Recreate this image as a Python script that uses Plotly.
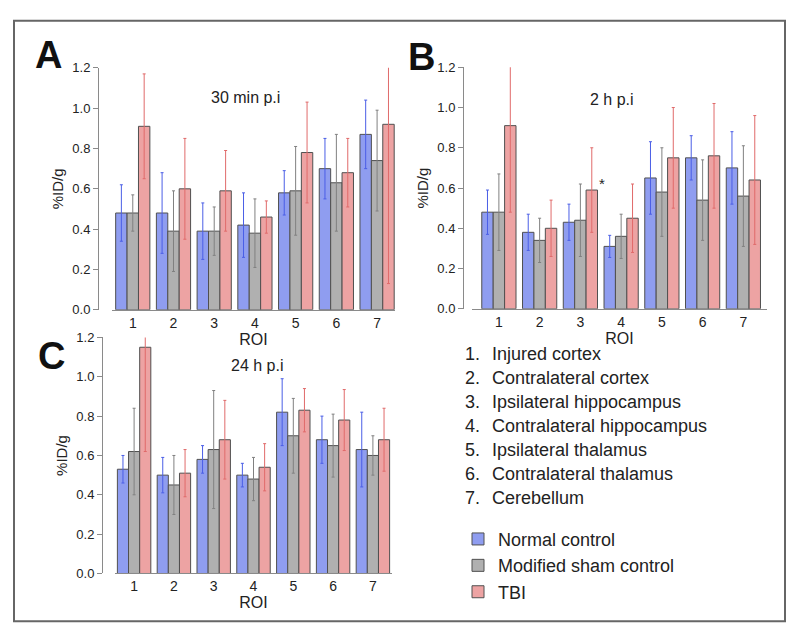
import plotly.graph_objects as go

# ---------------- data ----------------
roi = [1, 2, 3, 4, 5, 6, 7]
roi_names = ["Injured cortex", "Contralateral cortex", "Ipsilateral hippocampus",
             "Contralateral hippocampus", "Ipsilateral thalamus",
             "Contralateral thalamus", "Cerebellum"]
groups = ["Normal control", "Modified sham control", "TBI"]
panel_letters = ["A", "B", "C"]
panel_titles = ["30 min p.i", "2 h p.i", "24 h p.i"]

# 30 min p.i
a_normal = [0.48, 0.48, 0.39, 0.42, 0.58, 0.70, 0.87]
a_normal_sd = [0.14, 0.20, 0.14, 0.16, 0.11, 0.15, 0.17]
a_sham = [0.48, 0.39, 0.39, 0.38, 0.59, 0.63, 0.74]
a_sham_sd = [0.09, 0.20, 0.12, 0.17, 0.22, 0.24, 0.25]
a_tbi = [0.91, 0.60, 0.59, 0.46, 0.78, 0.68, 0.92]
a_tbi_sd = [0.26, 0.25, 0.20, 0.08, 0.25, 0.17, 0.79]

# 2 h p.i
b_normal = [0.48, 0.38, 0.43, 0.31, 0.65, 0.75, 0.70]
b_normal_sd = [0.11, 0.09, 0.09, 0.055, 0.18, 0.11, 0.18]
b_sham = [0.48, 0.34, 0.44, 0.36, 0.58, 0.54, 0.56]
b_sham_sd = [0.19, 0.11, 0.18, 0.11, 0.22, 0.20, 0.25]
b_tbi = [0.91, 0.40, 0.59, 0.45, 0.75, 0.76, 0.64]
b_tbi_sd = [0.43, 0.14, 0.21, 0.17, 0.25, 0.26, 0.32]

# 24 h p.i
c_normal = [0.53, 0.50, 0.58, 0.50, 0.82, 0.68, 0.63]
c_normal_sd = [0.07, 0.09, 0.07, 0.06, 0.17, 0.12, 0.19]
c_sham = [0.62, 0.45, 0.63, 0.48, 0.70, 0.65, 0.60]
c_sham_sd = [0.22, 0.15, 0.30, 0.11, 0.19, 0.16, 0.10]
c_tbi = [1.15, 0.51, 0.68, 0.54, 0.83, 0.78, 0.68]
c_tbi_sd = [0.53, 0.12, 0.20, 0.12, 0.11, 0.155, 0.16]

panels = [
    [(a_normal, a_normal_sd), (a_sham, a_sham_sd), (a_tbi, a_tbi_sd)],
    [(b_normal, b_normal_sd), (b_sham, b_sham_sd), (b_tbi, b_tbi_sd)],
    [(c_normal, c_normal_sd), (c_sham, c_sham_sd), (c_tbi, c_tbi_sd)],
]
star_roi = 3          # significance marker in panel B
star_value = 0.625

# ---------------- style ----------------
W, H = 800, 644
FONT = "Liberation Sans, Arial, Helvetica, sans-serif"
fill_colors = ["#8f9df0", "#b0b0b0", "#eda3a3"]
err_colors = ["#4a5ee6", "#808080", "#e06a6a"]
axis_color = "#8a8a8a"
text_color = "#222222"

# pixel layout of the three panels
panel_px = [
    dict(x0=112, x1=395, top=62.3, bottom=310, yaxis_x=98, xr=[0.49, 7.44],
         letter=(48, 49), sub=(245, 93)),
    dict(x0=472, x1=767, top=61.7, bottom=309, yaxis_x=463, xr=[0.34, 7.58],
         letter=(421, 51), sub=(612, 95)),
    dict(x0=115, x1=392, top=338.3, bottom=580, yaxis_x=102, xr=[0.52, 7.48],
         letter=(51, 357), sub=(257, 367)),
]

fig = go.Figure()
layout = dict(
    width=W, height=H, autosize=False,
    margin=dict(l=0, r=0, t=0, b=0),
    paper_bgcolor="white", plot_bgcolor="white",
    barmode="group", bargap=0.16, bargroupgap=0.0,
    font=dict(family=FONT, size=13, color=text_color),
    showlegend=True,
)

annotations = []
for p, (series, geo) in enumerate(zip(panels, panel_px)):
    suffix = "" if p == 0 else str(p + 1)
    for g, (vals, sd) in enumerate(series):
        fig.add_trace(go.Bar(
            x=roi, y=vals, name=groups[g],
            marker=dict(color=fill_colors[g], line=dict(color="#505050", width=1)),
            error_y=dict(type="data", array=sd, visible=True, color=err_colors[g],
                         thickness=1, width=1.5),
            xaxis="x" + suffix, yaxis="y" + suffix,
            showlegend=(p == 0),
        ))
    layout["xaxis" + suffix] = dict(
        domain=[geo["x0"] / W, geo["x1"] / W], anchor="y" + suffix,
        range=geo["xr"], tickmode="array", tickvals=roi, ticktext=[str(r) for r in roi],
        showline=True, linecolor=axis_color, linewidth=1, ticks="",
        showgrid=False, zeroline=False,
        tickfont=dict(size=14, color=text_color),
        title=dict(text="ROI", font=dict(size=16, color=text_color), standoff=0),
    )
    layout["yaxis" + suffix] = dict(
        domain=[1 - geo["bottom"] / H, 1 - geo["top"] / H],
        anchor="free", position=geo["yaxis_x"] / W,
        range=[0, 1.2], dtick=0.2, tickformat=".1f",
        showline=True, linecolor=axis_color, linewidth=1,
        ticks="outside", ticklen=5, tickcolor=axis_color,
        showgrid=False, zeroline=False,
        tickfont=dict(size=13, color=text_color),
        title=dict(text="%ID/g", font=dict(size=15, color=text_color), standoff=4),
    )
    # panel letter
    annotations.append(dict(
        text="<b>%s</b>" % panel_letters[p], xref="paper", yref="paper",
        x=geo["letter"][0] / W, y=1 - geo["letter"][1] / H,
        xanchor="center", yanchor="middle", showarrow=False,
        font=dict(size=38, color="#111111", family=FONT),
    ))
    # panel subtitle
    annotations.append(dict(
        text=panel_titles[p], xref="paper", yref="paper",
        x=geo["sub"][0] / W, y=1 - geo["sub"][1] / H,
        xanchor="center", yanchor="middle", showarrow=False,
        font=dict(size=16, color=text_color),
    ))

# significance star
annotations.append(dict(
    text="*", xref="x2", yref="y2", x=star_roi + 0.52, y=star_value,
    xanchor="center", yanchor="middle", showarrow=False,
    font=dict(size=15, color=text_color),
))

# ROI key
key_x_num, key_x_name, key_y0, key_dy = 463, 490, 355, 24.7
for i, name in enumerate(roi_names):
    yy = 1 - (key_y0 + i * key_dy) / H
    annotations.append(dict(text="%d." % roi[i], xref="paper", yref="paper",
                            x=key_x_num / W, y=yy, xanchor="left", yanchor="middle",
                            showarrow=False, font=dict(size=18, color=text_color)))
    annotations.append(dict(text=name, xref="paper", yref="paper",
                            x=key_x_name / W, y=yy, xanchor="left", yanchor="middle",
                            showarrow=False, font=dict(size=18, color=text_color)))

layout["annotations"] = annotations
layout["legend"] = dict(
    x=458 / W, y=1 - 526 / H, xanchor="left", yanchor="top",
    font=dict(size=18, color=text_color), bgcolor="rgba(0,0,0,0)",
    tracegroupgap=0, itemwidth=30,
)
layout["shapes"] = [dict(
    type="rect", xref="paper", yref="paper",
    x0=14 / W, x1=785 / W, y0=1 - 629 / H, y1=1 - 14 / H,
    line=dict(color="#666666", width=2), fillcolor="rgba(0,0,0,0)", layer="below",
)]

fig.update_layout(**layout)
page_css = (
    "var s=document.createElement('style');"
    "s.textContent='html,body{margin:0!important;padding:0!important;overflow:hidden;}';"
    "document.head.appendChild(s);"
)
fig.write_html("out.html",
               config={"displayModeBar": False, "staticPlot": True},
               post_script=page_css)
